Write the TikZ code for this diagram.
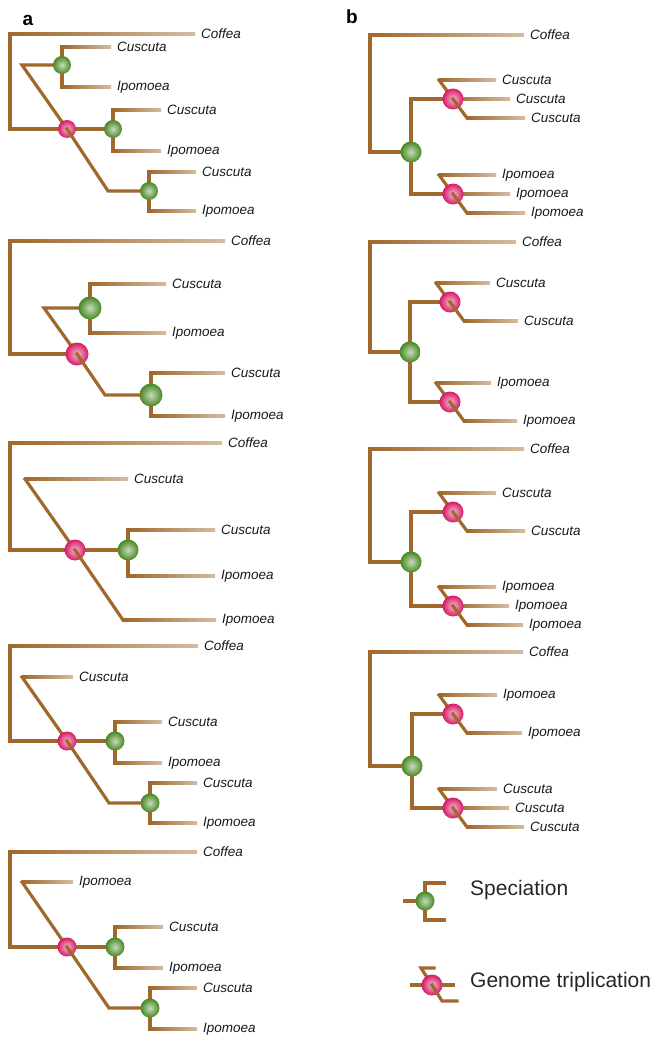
\documentclass[tikz,border=0pt]{standalone}
\usepackage{fontspec}
\setmainfont{Liberation Sans}
\usetikzlibrary{calc,backgrounds}

\definecolor{brn}{RGB}{160,104,44}
\definecolor{grn}{RGB}{70,136,34}
\definecolor{pnk}{RGB}{214,26,100}

\tikzset{
  brl/.style={draw=brn, line width=3.2pt, line cap=rect, line join=miter},
  spec/.style={circle, inner sep=0pt, minimum size=21pt, inner color=grn!30!white, outer color=grn},
  trip/.style={circle, inner sep=0pt, minimum size=21pt, inner color=pnk!30!white, outer color=pnk},
  lab/.style={anchor=west, inner sep=0pt, text=black!90, font=\fontsize{13.5}{16}\selectfont\itshape},
  panel/.style={inner sep=0pt, font=\fontsize{19}{22}\selectfont\bfseries},
  key/.style={anchor=west, inner sep=0pt, text=black!85, font=\fontsize{21}{25}\selectfont}
}
% leaf branch, brown fading out towards the label
\newcommand{\leaf}[2]{\shade[left color=brn, middle color=brn!90!white, right color=brn!45!white]
  ($(#1)+(0,-1.6)$) rectangle ($(#1 -| #2.west)+(-6,1.6)$);}

\begin{document}
\begin{tikzpicture}[x=1pt,y=-1pt] % a: five trees, b: four trees, key
  \useasboundingbox (0,0) rectangle (665,1038);
  \node[panel] (la) at (28,20) {a};
  \node[panel] (lb) at (352,17) {b};

  % a1
  \coordinate (a1r) at (10,34);
  \coordinate (a1u) at (22,65);
  \coordinate (a1d) at (108,191);
  \node[trip, minimum size=18pt] (a1t) at (67,129) {};
  \node[spec, minimum size=18pt] (a1s1) at (62,65) {};
  \node[spec, minimum size=18pt] (a1s2) at (113,129) {};
  \node[spec, minimum size=18pt] (a1s3) at (149,191) {};
  \coordinate (a1s1a) at (62,47);  \coordinate (a1s1b) at (62,87);
  \coordinate (a1s2a) at (113,110); \coordinate (a1s2b) at (113,151);
  \coordinate (a1s3a) at (149,172); \coordinate (a1s3b) at (149,211);
  \node[lab] (a1l1) at (201,34) {Coffea};
  \node[lab] (a1l2) at (117,47) {Cuscuta};
  \node[lab] (a1l3) at (117,87) {Ipomoea};
  \node[lab] (a1l4) at (167,110) {Cuscuta};
  \node[lab] (a1l5) at (167,151) {Ipomoea};
  \node[lab] (a1l6) at (202,172) {Cuscuta};
  \node[lab] (a1l7) at (202,211) {Ipomoea};
  \begin{scope}[on background layer]
    \draw[brl] (a1r) |- (a1t);
    \draw[brl] (a1s1) -- (a1u) -- (a1t.center);
    \draw[brl] (a1t) -- (a1s2);
    \draw[brl] (a1s1a) -- (a1s1b);
    \draw[brl] (a1s2a) -- (a1s2b);
    \draw[brl] (a1s3a) -- (a1s3b);
    \leaf{a1r}{a1l1}
    \leaf{a1s1a}{a1l2} \leaf{a1s1b}{a1l3}
    \leaf{a1s2a}{a1l4} \leaf{a1s2b}{a1l5}
    \leaf{a1s3a}{a1l6} \leaf{a1s3b}{a1l7}
  \end{scope}
  \draw[brl] (a1t.center) -- (a1d) -- (a1s3);

  % a2
  \coordinate (a2r) at (10,241);
  \coordinate (a2u) at (44,308);
  \coordinate (a2d) at (105,395);
  \node[trip, minimum size=23pt] (a2t) at (77,354) {};
  \node[spec, minimum size=23pt] (a2s1) at (90,308) {};
  \node[spec, minimum size=23pt] (a2s2) at (151,395) {};
  \coordinate (a2s1a) at (90,284);  \coordinate (a2s1b) at (90,333);
  \coordinate (a2s2a) at (151,373); \coordinate (a2s2b) at (151,416);
  \node[lab] (a2l1) at (231,241) {Coffea};
  \node[lab] (a2l2) at (172,284) {Cuscuta};
  \node[lab] (a2l3) at (172,333) {Ipomoea};
  \node[lab] (a2l4) at (231,373) {Cuscuta};
  \node[lab] (a2l5) at (231,416) {Ipomoea};
  \begin{scope}[on background layer]
    \draw[brl] (a2r) |- (a2t);
    \draw[brl] (a2s1) -- (a2u) -- (a2t.center);
    \draw[brl] (a2s1a) -- (a2s1b);
    \draw[brl] (a2s2a) -- (a2s2b);
    \leaf{a2r}{a2l1}
    \leaf{a2s1a}{a2l2} \leaf{a2s1b}{a2l3}
    \leaf{a2s2a}{a2l4} \leaf{a2s2b}{a2l5}
  \end{scope}
  \draw[brl] (a2t.center) -- (a2d) -- (a2s2);

  % a3
  \coordinate (a3r) at (10,443);
  \coordinate (a3u) at (25,479);
  \coordinate (a3d) at (123,620);
  \node[trip] (a3t) at (75,550) {};
  \node[spec] (a3s) at (128,550) {};
  \coordinate (a3sa) at (128,530); \coordinate (a3sb) at (128,576);
  \node[lab] (a3l1) at (228,443) {Coffea};
  \node[lab] (a3l2) at (134,479) {Cuscuta};
  \node[lab] (a3l3) at (221,530) {Cuscuta};
  \node[lab] (a3l4) at (221,576) {Ipomoea};
  \node[lab] (a3l5) at (222,620) {Ipomoea};
  \begin{scope}[on background layer]
    \draw[brl] (a3r) |- (a3t);
    \draw[brl] (a3u) -- (a3t.center);
    \draw[brl] (a3t) -- (a3s);
    \draw[brl] (a3sa) -- (a3sb);
    \leaf{a3r}{a3l1} \leaf{a3u}{a3l2}
    \leaf{a3sa}{a3l3} \leaf{a3sb}{a3l4}
    \leaf{a3d}{a3l5}
  \end{scope}
  \draw[brl] (a3t.center) -- (a3d);

  % a4
  \coordinate (a4r) at (10,646);
  \coordinate (a4u) at (22,677);
  \coordinate (a4d) at (109,803);
  \node[trip, minimum size=19pt] (a4t) at (67,741) {};
  \node[spec, minimum size=19pt] (a4s1) at (115,741) {};
  \node[spec, minimum size=19pt] (a4s2) at (150,803) {};
  \coordinate (a4s1a) at (115,722); \coordinate (a4s1b) at (115,763);
  \coordinate (a4s2a) at (150,783); \coordinate (a4s2b) at (150,823);
  \node[lab] (a4l1) at (204,646) {Coffea};
  \node[lab] (a4l2) at (79,677) {Cuscuta};
  \node[lab] (a4l3) at (168,722) {Cuscuta};
  \node[lab] (a4l4) at (168,763) {Ipomoea};
  \node[lab] (a4l5) at (203,783) {Cuscuta};
  \node[lab] (a4l6) at (203,823) {Ipomoea};
  \begin{scope}[on background layer]
    \draw[brl] (a4r) |- (a4t);
    \draw[brl] (a4u) -- (a4t.center);
    \draw[brl] (a4t) -- (a4s1);
    \draw[brl] (a4s1a) -- (a4s1b);
    \draw[brl] (a4s2a) -- (a4s2b);
    \leaf{a4r}{a4l1} \leaf{a4u}{a4l2}
    \leaf{a4s1a}{a4l3} \leaf{a4s1b}{a4l4}
    \leaf{a4s2a}{a4l5} \leaf{a4s2b}{a4l6}
  \end{scope}
  \draw[brl] (a4t.center) -- (a4d) -- (a4s2);

  % a5
  \coordinate (a5r) at (10,852);
  \coordinate (a5u) at (22,882);
  \coordinate (a5d) at (109,1008);
  \node[trip, minimum size=19pt] (a5t) at (67,947) {};
  \node[spec, minimum size=19pt] (a5s1) at (115,947) {};
  \node[spec, minimum size=19pt] (a5s2) at (150,1008) {};
  \coordinate (a5s1a) at (115,927); \coordinate (a5s1b) at (115,968);
  \coordinate (a5s2a) at (150,988); \coordinate (a5s2b) at (150,1029);
  \node[lab] (a5l1) at (203,852) {Coffea};
  \node[lab] (a5l2) at (79,882) {Ipomoea};
  \node[lab] (a5l3) at (169,927) {Cuscuta};
  \node[lab] (a5l4) at (169,968) {Ipomoea};
  \node[lab] (a5l5) at (203,988) {Cuscuta};
  \node[lab] (a5l6) at (203,1029) {Ipomoea};
  \begin{scope}[on background layer]
    \draw[brl] (a5r) |- (a5t);
    \draw[brl] (a5u) -- (a5t.center);
    \draw[brl] (a5t) -- (a5s1);
    \draw[brl] (a5s1a) -- (a5s1b);
    \draw[brl] (a5s2a) -- (a5s2b);
    \leaf{a5r}{a5l1} \leaf{a5u}{a5l2}
    \leaf{a5s1a}{a5l3} \leaf{a5s1b}{a5l4}
    \leaf{a5s2a}{a5l5} \leaf{a5s2b}{a5l6}
  \end{scope}
  \draw[brl] (a5t.center) -- (a5d) -- (a5s2);

  % b1
  \coordinate (b1r) at (370,35);
  \node[spec] (b1g) at (411,152) {};
  \coordinate (b1ga) at (411,99); \coordinate (b1gb) at (411,194);
  \node[trip] (b1p1) at (453,99) {};
  \coordinate (b1u1) at (439,80);  \coordinate (b1d1) at (467,118);
  \node[trip] (b1p2) at (453,194) {};
  \coordinate (b1u2) at (439,175); \coordinate (b1d2) at (467,213);
  \node[lab] (b1l1) at (530,35) {Coffea};
  \node[lab] (b1l2) at (502,80) {Cuscuta};
  \node[lab] (b1l3) at (516,99) {Cuscuta};
  \node[lab] (b1l4) at (531,118) {Cuscuta};
  \node[lab] (b1l5) at (502,175) {Ipomoea};
  \node[lab] (b1l6) at (516,194) {Ipomoea};
  \node[lab] (b1l7) at (531,213) {Ipomoea};
  \begin{scope}[on background layer]
    \draw[brl] (b1r) |- (b1g);
    \draw[brl] (b1p1) -- (b1ga) -- (b1gb) -- (b1p2);
    \draw[brl] (b1u1) -- (b1p1.center);
    \draw[brl] (b1u2) -- (b1p2.center);
    \leaf{b1r}{b1l1}
    \leaf{b1u1}{b1l2} \leaf{b1p1}{b1l3} \leaf{b1d1}{b1l4}
    \leaf{b1u2}{b1l5} \leaf{b1p2}{b1l6} \leaf{b1d2}{b1l7}
  \end{scope}
  \draw[brl] (b1p1.center) -- (b1d1);
  \draw[brl] (b1p2.center) -- (b1d2);

  % b2
  \coordinate (b2r) at (370,242);
  \node[spec] (b2g) at (410,352) {};
  \coordinate (b2ga) at (410,302); \coordinate (b2gb) at (410,402);
  \node[trip] (b2p1) at (450,302) {};
  \coordinate (b2u1) at (436,283); \coordinate (b2d1) at (464,321);
  \node[trip] (b2p2) at (450,402) {};
  \coordinate (b2u2) at (436,383); \coordinate (b2d2) at (464,421);
  \node[lab] (b2l1) at (522,242) {Coffea};
  \node[lab] (b2l2) at (496,283) {Cuscuta};
  \node[lab] (b2l3) at (524,321) {Cuscuta};
  \node[lab] (b2l4) at (497,383) {Ipomoea};
  \node[lab] (b2l5) at (523,421) {Ipomoea};
  \begin{scope}[on background layer]
    \draw[brl] (b2r) |- (b2g);
    \draw[brl] (b2p1) -- (b2ga) -- (b2gb) -- (b2p2);
    \draw[brl] (b2u1) -- (b2p1.center);
    \draw[brl] (b2u2) -- (b2p2.center);
    \leaf{b2r}{b2l1}
    \leaf{b2u1}{b2l2} \leaf{b2d1}{b2l3}
    \leaf{b2u2}{b2l4} \leaf{b2d2}{b2l5}
  \end{scope}
  \draw[brl] (b2p1.center) -- (b2d1);
  \draw[brl] (b2p2.center) -- (b2d2);

  % b3
  \coordinate (b3r) at (370,449);
  \node[spec] (b3g) at (411,562) {};
  \coordinate (b3ga) at (411,512); \coordinate (b3gb) at (411,606);
  \node[trip] (b3p1) at (453,512) {};
  \coordinate (b3u1) at (439,493); \coordinate (b3d1) at (467,531);
  \node[trip] (b3p2) at (453,606) {};
  \coordinate (b3u2) at (439,587); \coordinate (b3d2) at (467,625);
  \node[lab] (b3l1) at (530,449) {Coffea};
  \node[lab] (b3l2) at (502,493) {Cuscuta};
  \node[lab] (b3l3) at (531,531) {Cuscuta};
  \node[lab] (b3l4) at (502,587) {Ipomoea};
  \node[lab] (b3l5) at (515,606) {Ipomoea};
  \node[lab] (b3l6) at (529,625) {Ipomoea};
  \begin{scope}[on background layer]
    \draw[brl] (b3r) |- (b3g);
    \draw[brl] (b3p1) -- (b3ga) -- (b3gb) -- (b3p2);
    \draw[brl] (b3u1) -- (b3p1.center);
    \draw[brl] (b3u2) -- (b3p2.center);
    \leaf{b3r}{b3l1}
    \leaf{b3u1}{b3l2} \leaf{b3d1}{b3l3}
    \leaf{b3u2}{b3l4} \leaf{b3p2}{b3l5} \leaf{b3d2}{b3l6}
  \end{scope}
  \draw[brl] (b3p1.center) -- (b3d1);
  \draw[brl] (b3p2.center) -- (b3d2);

  % b4
  \coordinate (b4r) at (370,652);
  \node[spec] (b4g) at (412,766) {};
  \coordinate (b4ga) at (412,714); \coordinate (b4gb) at (412,808);
  \node[trip] (b4p1) at (453,714) {};
  \coordinate (b4u1) at (439,695); \coordinate (b4d1) at (467,733);
  \node[trip] (b4p2) at (453,808) {};
  \coordinate (b4u2) at (439,789); \coordinate (b4d2) at (467,827);
  \node[lab] (b4l1) at (529,652) {Coffea};
  \node[lab] (b4l2) at (503,695) {Ipomoea};
  \node[lab] (b4l3) at (528,733) {Ipomoea};
  \node[lab] (b4l4) at (503,789) {Cuscuta};
  \node[lab] (b4l5) at (515,808) {Cuscuta};
  \node[lab] (b4l6) at (530,827) {Cuscuta};
  \begin{scope}[on background layer]
    \draw[brl] (b4r) |- (b4g);
    \draw[brl] (b4p1) -- (b4ga) -- (b4gb) -- (b4p2);
    \draw[brl] (b4u1) -- (b4p1.center);
    \draw[brl] (b4u2) -- (b4p2.center);
    \leaf{b4r}{b4l1}
    \leaf{b4u1}{b4l2} \leaf{b4d1}{b4l3}
    \leaf{b4u2}{b4l4} \leaf{b4p2}{b4l5} \leaf{b4d2}{b4l6}
  \end{scope}
  \draw[brl] (b4p1.center) -- (b4d1);
  \draw[brl] (b4p2.center) -- (b4d2);

  % key
  \node[spec, minimum size=19pt] (ks) at (425,901) {};
  \coordinate (ks0) at (405,901);
  \coordinate (ksa) at (425,883); \coordinate (ksa2) at (444,883);
  \coordinate (ksb) at (425,920); \coordinate (ksb2) at (444,920);
  \node[key] (kls) at (470,890) {Speciation};
  \node[trip] (kt) at (432,985) {};
  \coordinate (kt0) at (412,985); \coordinate (kt1) at (453,985);
  \coordinate (ktu) at (421,968); \coordinate (ktu2) at (434,968);
  \coordinate (ktd) at (442,1001); \coordinate (ktd2) at (457,1001);
  \node[key] (klt) at (470,982) {Genome triplication};
  \begin{scope}[on background layer]
    \draw[brl] (ks0) -- (ks);
    \draw[brl] (ksa2) -- (ksa) -- (ksb) -- (ksb2);
    \draw[brl] (kt0) -- (kt1);
    \draw[brl] (ktu2) -- (ktu) -- (kt.center);
  \end{scope}
  \draw[brl] (kt.center) -- (ktd) -- (ktd2);
\end{tikzpicture}
\end{document}
